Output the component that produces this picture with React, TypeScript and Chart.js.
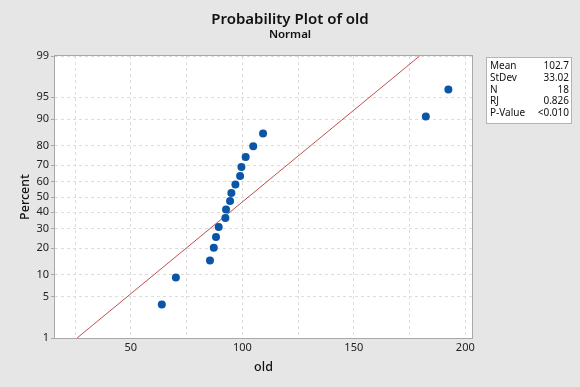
import React, { useEffect, useRef } from "react";
import { Chart, registerables } from "chart.js";

Chart.register(...registerables);

// Data
const OLD_VALUES = [63.9, 70.2, 85.5, 87.2, 88.2, 89.4, 92.4, 92.7, 94.5, 95.1, 96.9, 99.0, 99.6, 101.5, 104.9, 109.3, 182.3, 192.4];
const PERCENTS = [3.8, 9.2, 14.7, 20.1, 25.5, 31.0, 36.4, 41.8, 47.3, 52.7, 58.2, 63.6, 69.0, 74.5, 79.9, 85.3, 90.8, 96.2];
const FIT_X = [25.9, 179.5];
const FIT_PCT = [1, 99];
const Y_TICKS = [1, 5, 10, 20, 30, 40, 50, 60, 70, 80, 90, 95, 99];
const X_TICKS = [25, 50, 75, 100, 125, 150, 175, 200];
const X_LABELED = [50, 100, 150, 200];
const STAT_LABELS = ["Mean", "StDev", "N", "RJ", "P-Value"];
const STAT_VALUES = ["102.7", "33.02", "18", "0.826", "<0.010"];
const TITLE = "Probability Plot of old";
const SUBTITLE = "Normal";
const X_TITLE = "old";
const Y_TITLE = "Percent";

const FONT = '"Noto Sans", "Open Sans", sans-serif';

// inverse standard normal CDF (probability scale transform)
function probit(p: number): number {
  const a = [-3.969683028665376e1, 2.209460984245205e2, -2.759285104469687e2, 1.38357751867269e2, -3.066479806614716e1, 2.506628277459239];
  const b = [-5.447609879822406e1, 1.615858368580409e2, -1.556989798598866e2, 6.680131188771972e1, -1.328068155288572e1];
  const c = [-7.784894002430293e-3, -3.223964580411365e-1, -2.400758277161838, -2.549732539343734, 4.374664141464968, 2.938163982698783];
  const d = [7.784695709041462e-3, 3.224671290700398e-1, 2.445134137142996, 3.754408661907416];
  const pl = 0.02425;
  let q: number, r: number;
  if (p < pl) {
    q = Math.sqrt(-2 * Math.log(p));
    return (((((c[0] * q + c[1]) * q + c[2]) * q + c[3]) * q + c[4]) * q + c[5]) / ((((d[0] * q + d[1]) * q + d[2]) * q + d[3]) * q + 1);
  } else if (p <= 1 - pl) {
    q = p - 0.5;
    r = q * q;
    return ((((((a[0] * r + a[1]) * r + a[2]) * r + a[3]) * r + a[4]) * r + a[5]) * q) / (((((b[0] * r + b[1]) * r + b[2]) * r + b[3]) * r + b[4]) * r + 1);
  } else {
    q = Math.sqrt(-2 * Math.log(1 - p));
    return -(((((c[0] * q + c[1]) * q + c[2]) * q + c[3]) * q + c[4]) * q + c[5]) / ((((d[0] * q + d[1]) * q + d[2]) * q + d[3]) * q + 1);
  }
}

const decorPlugin = {
  id: "decor",
  beforeDraw(chart: any) {
    const { ctx, chartArea: a, width, height } = chart;
    ctx.save();
    ctx.fillStyle = "#e6e6e6";
    ctx.fillRect(0, 0, width, height);
    ctx.fillStyle = "#ffffff";
    ctx.fillRect(a.left, a.top, a.right - a.left, a.bottom - a.top);
    ctx.restore();
  },
  afterDraw(chart: any) {
    const { ctx, chartArea: a } = chart;
    ctx.save();
    // plot frame
    ctx.strokeStyle = "#a8a8a8";
    ctx.lineWidth = 1;
    ctx.setLineDash([]);
    ctx.strokeRect(Math.round(a.left) - 0.5, Math.round(a.top) - 0.5, Math.round(a.right - a.left) + 1, Math.round(a.bottom - a.top) + 1);

    // titles
    ctx.fillStyle = "#111111";
    ctx.textAlign = "center";
    ctx.textBaseline = "alphabetic";
    ctx.font = `600 15px ${FONT}`;
    ctx.fillText(TITLE, 290, 24);
    ctx.font = `600 11.5px ${FONT}`;
    ctx.fillText(SUBTITLE, 290, 38);

    // axis titles
    ctx.font = `500 12.5px ${FONT}`;
    ctx.textBaseline = "middle";
    ctx.fillText(X_TITLE, (a.left + a.right) / 2, 367);
    ctx.save();
    ctx.translate(25, (a.top + a.bottom) / 2);
    ctx.rotate(-Math.PI / 2);
    ctx.fillText(Y_TITLE, 0, 0);
    ctx.restore();

    // stats box
    const bx = 486.5, by = 57.5, bw = 85, bh = 66;
    ctx.fillStyle = "#ffffff";
    ctx.fillRect(bx, by, bw, bh);
    ctx.strokeStyle = "#b4b4b4";
    ctx.strokeRect(bx, by, bw, bh);
    ctx.font = `10px ${FONT}`;
    ctx.fillStyle = "#111111";
    ctx.textBaseline = "middle";
    STAT_LABELS.forEach((lab, i) => {
      const y = 66.5 + i * 11.7;
      ctx.textAlign = "left";
      ctx.fillText(lab, 490, y);
      ctx.textAlign = "right";
      ctx.fillText(STAT_VALUES[i], 569, y);
    });
    ctx.restore();
  },
};

export default function App() {
  const ref = useRef<HTMLCanvasElement | null>(null);
  useEffect(() => {
    if (!ref.current) return;
    const zMin = probit(Y_TICKS[0] / 100);
    const zMax = probit(Y_TICKS[Y_TICKS.length - 1] / 100);
    const chart = new Chart(ref.current, {
      type: "scatter",
      data: {
        datasets: [
          {
            label: "old",
            data: OLD_VALUES.map((x, i) => ({ x, y: probit(PERCENTS[i] / 100) })),
            backgroundColor: "#0b55a6",
            borderWidth: 0,
            pointRadius: 4,
            pointHoverRadius: 4,
          },
          {
            label: "fit",
            data: FIT_X.map((x, i) => ({ x, y: probit(FIT_PCT[i] / 100) })),
            showLine: true,
            borderColor: "#c0504d",
            borderWidth: 1,
            pointRadius: 0,
            fill: false,
          },
        ],
      },
      options: {
        animation: false,
        responsive: true,
        maintainAspectRatio: false,
        events: [],
        layout: { padding: { top: 56, right: 108, left: 0, bottom: 0 } },
        plugins: {
          legend: { display: false },
          tooltip: { enabled: false },
          title: { display: false },
        },
        scales: {
          x: {
            type: "linear",
            min: 16,
            max: 203,
            afterBuildTicks: (s: any) => {
              s.ticks = X_TICKS.map((v) => ({ value: v }));
            },
            afterFit: (s: any) => {
              s.height = 49;
            },
            ticks: {
              autoSkip: false,
              maxRotation: 0,
              padding: 3,
              color: "#222222",
              font: { family: FONT, size: 11 },
              callback: (v: any) => (X_LABELED.includes(Number(v)) ? String(v) : ""),
            },
            grid: { color: "#dddddd", lineWidth: 1, drawTicks: false },
            border: { display: false, dash: [3, 3] },
          },
          y: {
            type: "linear",
            min: zMin,
            max: zMax,
            afterBuildTicks: (s: any) => {
              s.ticks = Y_TICKS.map((p) => ({ value: probit(p / 100) }));
            },
            afterFit: (s: any) => {
              s.width = 55;
            },
            ticks: {
              autoSkip: false,
              padding: 2,
              color: "#222222",
              font: { family: FONT, size: 11 },
              callback: (_v: any, i: number) => String(Y_TICKS[i]),
            },
            grid: {
              color: "#dddddd",
              lineWidth: 1,
              drawTicks: true,
              tickLength: 4,
              tickColor: "#a8a8a8",
              tickBorderDash: [],
            },
            border: { display: false, dash: [3, 3] },
          },
        },
      },
      plugins: [decorPlugin],
    });
    return () => chart.destroy();
  }, []);
  return (
    <div style={{ position: "fixed", left: 0, top: 0, width: 580, height: 387, background: "#e6e6e6" }}>
      <canvas ref={ref} />
    </div>
  );
}
